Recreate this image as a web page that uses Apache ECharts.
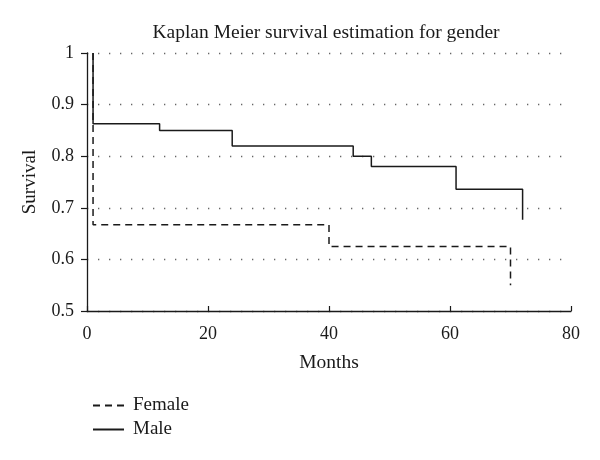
<!DOCTYPE html>
<html>
<head>
<meta charset="utf-8">
<script src="https://cdn.jsdelivr.net/npm/echarts@6/dist/echarts.min.js"></script>
<style>html,body{margin:0;padding:0;background:#fff}#c{width:600px;height:460px}</style>
</head>
<body>
<div id="c"></div>
<script>
var titleText = 'Kaplan Meier survival estimation for gender';
var xTicks = [0, 20, 40, 60, 80];
var yTicks = [0.5, 0.6, 0.7, 0.8, 0.9, 1];
var femaleMonths = [1, 1, 40, 70];
var femaleSurvival = [1, 0.667, 0.625, 0.55];
var maleMonths = [1, 1, 12, 24, 44, 47, 61, 72];
var maleSurvival = [1, 0.863, 0.85, 0.82, 0.8, 0.78, 0.736, 0.677];

function pairs(xs, ys) { return xs.map(function (x, i) { return [x, ys[i]]; }); }
var font = 'Liberation Serif';
var ink = '#1a1a1a';
var chart = echarts.init(document.getElementById('c'), null, { renderer: 'canvas' });
chart.setOption({
  animation: false,
  backgroundColor: '#fff',
  title: {
    text: titleText, left: 321, top: 18, textAlign: 'center',
    textStyle: { fontFamily: font, fontSize: 19.5, fontWeight: 'normal', color: ink }
  },
  grid: { left: 87, right: 29, top: 53, bottom: 149 },
  legend: {
    orient: 'vertical', left: 87, top: 391, itemWidth: 31, itemHeight: 14, itemGap: 5,
    itemStyle: { color: 'transparent', borderColor: 'transparent', borderWidth: 0, opacity: 0 },
    textStyle: { fontFamily: font, fontSize: 19, color: ink, padding: [0, 0, 0, 4] },
    data: ['Female', 'Male']
  },
  xAxis: {
    type: 'value', min: xTicks[0], max: xTicks[xTicks.length - 1], interval: 20,
    name: 'Months', nameLocation: 'middle', nameGap: 42,
    nameTextStyle: { fontFamily: font, fontSize: 19.5, color: ink },
    axisLine: { lineStyle: { color: ink, width: 1.3 } },
    axisTick: { inside: true, length: 5, lineStyle: { color: ink, width: 1.2 } },
    axisLabel: { fontFamily: font, fontSize: 18, color: ink, margin: 14 },
    splitLine: { show: false }
  },
  yAxis: {
    type: 'value', min: yTicks[0], max: yTicks[yTicks.length - 1], interval: 0.1,
    name: 'Survival', nameLocation: 'middle', nameGap: 47,
    nameTextStyle: { fontFamily: font, fontSize: 19, color: ink },
    axisLine: { show: true, lineStyle: { color: ink, width: 1.3 } },
    axisTick: { show: true, length: 6, lineStyle: { color: ink, width: 1.2 } },
    axisLabel: { fontFamily: font, fontSize: 18, color: ink, margin: 13,
      formatter: function (v) { return v === 1 ? '1' : v.toFixed(1); } },
    splitLine: { show: true, lineStyle: { color: '#666', width: 1.3, type: [1.3, 9.7] } }
  },
  series: [
    {
      name: 'Female', type: 'line', step: 'end', symbol: 'none',
      data: pairs(femaleMonths, femaleSurvival),
      lineStyle: { color: ink, width: 1.5, type: [7, 5] },
      itemStyle: { color: ink }
    },
    {
      name: 'Male', type: 'line', step: 'end', symbol: 'none',
      data: pairs(maleMonths, maleSurvival),
      lineStyle: { color: ink, width: 1.5, type: 'solid' },
      itemStyle: { color: ink }
    }
  ]
});
</script>
</body>
</html>
